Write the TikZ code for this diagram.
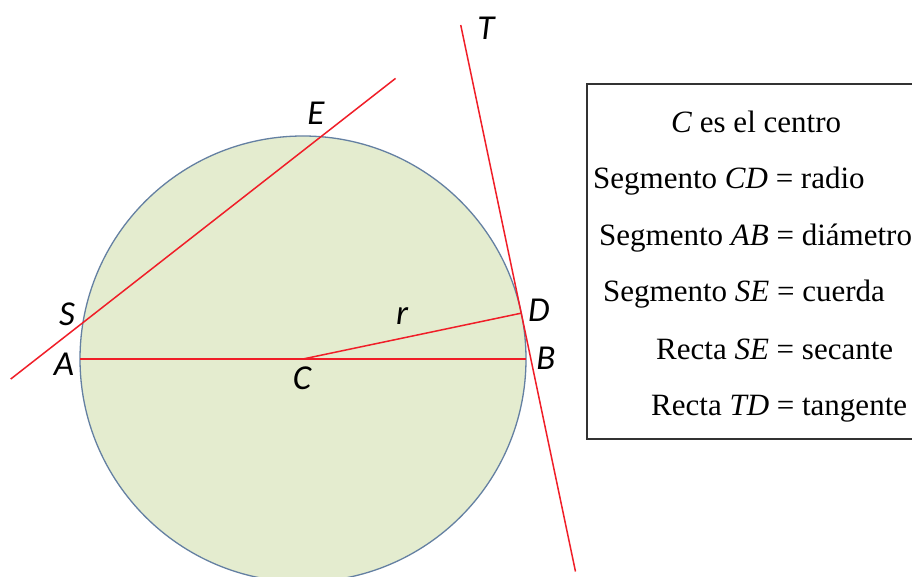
\documentclass[tikz,border=0pt]{standalone}
\usepackage{fontspec}
\setmainfont{Liberation Serif}
\newfontfamily\labfont{Carlito}
\usetikzlibrary{calc}
\definecolor{fillgreen}{RGB}{228,236,207}
\definecolor{edgeblue}{RGB}{100,128,162}
\definecolor{linered}{RGB}{240,30,40}
\definecolor{boxgray}{RGB}{50,50,50}
\begin{document}
\begin{tikzpicture}[x=1pt,y=1pt,
  redline/.style={draw=linered,line width=1.5pt},
  ptlabel/.style={inner sep=0pt,font=\labfont\itshape\fontsize{35}{40}\selectfont},
  legend/.style={anchor=base west,inner sep=0pt,font=\fontsize{31}{37}\selectfont}]
\clip (0,0) rectangle (912,576);
\fill[white] (0,0) rectangle (912,576);
% circle
\coordinate (C) at (303,217);
\draw[fill=fillgreen,draw=edgeblue,line width=1.3pt] (C) circle[radius=223];
\coordinate (A) at ($(C)+(180:223)$);
\coordinate (B) at ($(C)+(0:223)$);
\coordinate (D) at ($(C)+(11.86:223)$);
\coordinate (S) at ($(C)+(170.6:223)$);
\coordinate (E) at ($(C)+(85.4:223)$);
% secant ends
\coordinate (Sa) at ($(S)!-0.304!(E)$);
\coordinate (Sb) at ($(E)!-0.314!(S)$);
% tangent ends
\coordinate (Ttop) at ($(D)!294.5pt!-90:(C)$);
\coordinate (Tbot) at ($(D)!264pt!90:(C)$);
% lines
\draw[redline] (A) -- (B);
\draw[redline] (C) -- (D);
\draw[redline] (Sa) -- (Sb);
\draw[redline] (Ttop) -- (Tbot);
% labels
\node[ptlabel] (lE) at (316,463) {E};
\node[ptlabel] (lT) at (486,548) {T};
\node[ptlabel] (lS) at (67,262) {S};
\node[ptlabel] (lA) at (64,212) {A};
\node[ptlabel] (lC) at (302,198) {C};
\node[ptlabel] (lr) at (402,260) {r};
\node[ptlabel] (lD) at (539,266) {D};
\node[ptlabel] (lB) at (546,218) {B};
% legend box
\draw[draw=boxgray,line width=1.3pt] (587,492) rectangle (918,137);
\node[legend] (t1) at (671,443) {\textit{C} es el centro};
\node[legend] (t2) at (593,387) {Segmento \textit{CD} = radio};
\node[legend] (t3) at (599,330) {Segmento \textit{AB} = diámetro};
\node[legend] (t4) at (603,274) {Segmento \textit{SE} = cuerda};
\node[legend] (t5) at (656,217) {Recta \textit{SE} = secante};
\node[legend] (t6) at (651,161) {Recta \textit{TD} = tangente};
\end{tikzpicture}
\end{document}
